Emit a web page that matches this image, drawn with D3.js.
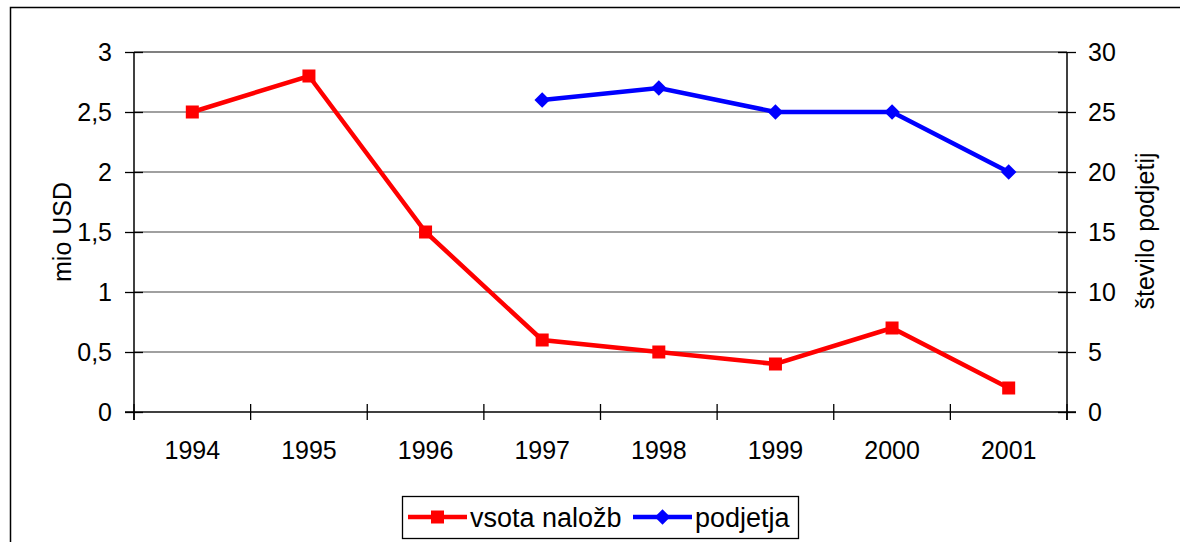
<!DOCTYPE html>
<html><head><meta charset="utf-8">
<script src="https://cdn.jsdelivr.net/npm/d3@7"></script>
<style>body{margin:0;background:#fff}svg{display:block}text{font-family:"Liberation Sans",Arial,sans-serif;fill:#000}</style>
</head><body><svg id="c" width="1180" height="542"></svg>
<script>
const years = ["1994","1995","1996","1997","1998","1999","2000","2001"];
const vsota = [2.5, 2.8, 1.5, 0.6, 0.5, 0.4, 0.7, 0.2];
const podjetja = [null, null, null, 26, 27, 25, 25, 20];
const leftTicks = [0, 0.5, 1, 1.5, 2, 2.5, 3];
const rightTicks = [0, 5, 10, 15, 20, 25, 30];
const seriesNames = ["vsota naložb", "podjetja"];

const svg = d3.select("#c");
const L = 134, R = 1067, T = 52, B = 412;
const x = d3.scaleBand().domain(years).range([L, R]);
const yL = d3.scaleLinear().domain([0, 3]).range([B, T]);
const yR = d3.scaleLinear().domain([0, 30]).range([B, T]);
const fmt = d => String(d).replace(".", ",");

// outer frame
svg.append("rect").attr("x", 10.5).attr("y", 7.5).attr("width", 1200).attr("height", 600)
  .attr("fill", "none").attr("stroke", "#000").attr("stroke-width", 1.5);

// gridlines
svg.append("g").selectAll("line").data(leftTicks.filter(d => d > 0)).join("line")
  .attr("x1", L).attr("x2", R).attr("y1", d => yL(d)).attr("y2", d => yL(d))
  .attr("stroke", "#808080").attr("stroke-width", d => d === 3 ? 2 : 1.3);

// left axis
const gl = svg.append("g").attr("transform", `translate(${L},0)`)
  .call(d3.axisLeft(yL).tickValues(leftTicks).tickFormat(fmt).tickSize(9).tickPadding(13));
gl.select(".domain").remove();
gl.selectAll(".tick line").attr("x1", 9).attr("stroke", "#000").attr("stroke-width", 1.3);
gl.selectAll("text").style("font-size", "25px");
svg.append("line").attr("x1", L).attr("x2", L).attr("y1", T).attr("y2", B + 8).attr("stroke", "#000").attr("stroke-width", 1.5);

// right axis
const gr = svg.append("g").attr("transform", `translate(${R},0)`)
  .call(d3.axisRight(yR).tickValues(rightTicks).tickSize(9).tickPadding(12));
gr.select(".domain").remove();
gr.selectAll(".tick line").attr("x1", -9).attr("stroke", "#000").attr("stroke-width", 1.3);
gr.selectAll("text").style("font-size", "25px");
svg.append("line").attr("x1", R).attr("x2", R).attr("y1", T).attr("y2", B + 8).attr("stroke", "#000").attr("stroke-width", 1.5);

// x axis
svg.append("line").attr("x1", L - 9).attr("x2", R + 9).attr("y1", B).attr("y2", B).attr("stroke", "#000").attr("stroke-width", 1.5);
const bounds = years.map(d => x(d)).concat([R]);
svg.append("g").selectAll("line").data(bounds).join("line")
  .attr("x1", d => d).attr("x2", d => d).attr("y1", B - 8).attr("y2", B + 8)
  .attr("stroke", "#000").attr("stroke-width", 1.3);
svg.append("g").selectAll("text").data(years).join("text")
  .attr("x", d => x(d) + x.bandwidth() / 2).attr("y", 459).attr("text-anchor", "middle")
  .style("font-size", "25px").text(d => d);

// axis titles
svg.append("text").attr("transform", "translate(71,232) rotate(-90)").attr("text-anchor", "middle")
  .style("font-size", "25px").text("mio USD");
svg.append("text").attr("transform", "translate(1154,231) rotate(-90)").attr("text-anchor", "middle")
  .style("font-size", "25px").text("število podjetij");

const cx = d => x(d) + x.bandwidth() / 2;
// red line
const redData = years.map((y, i) => ({ y, v: vsota[i] }));
svg.append("path").datum(redData)
  .attr("d", d3.line().x(d => cx(d.y)).y(d => yL(d.v)))
  .attr("fill", "none").attr("stroke", "#ff0000").attr("stroke-width", 4.5).attr("stroke-linejoin", "miter");
svg.append("g").selectAll("rect").data(redData).join("rect")
  .attr("x", d => cx(d.y) - 6.5).attr("y", d => yL(d.v) - 6.5).attr("width", 13).attr("height", 13).attr("fill", "#ff0000");

// blue line
const blueData = years.map((y, i) => ({ y, v: podjetja[i] })).filter(d => d.v != null);
svg.append("path").datum(blueData)
  .attr("d", d3.line().x(d => cx(d.y)).y(d => yR(d.v)))
  .attr("fill", "none").attr("stroke", "#0000ff").attr("stroke-width", 4.5);
svg.append("g").selectAll("path").data(blueData).join("path")
  .attr("transform", d => `translate(${cx(d.y)},${yR(d.v)}) rotate(45)`)
  .attr("d", d3.symbol().type(d3.symbolSquare).size(120)).attr("fill", "#0000ff");

// legend
svg.append("rect").attr("x", 402.5).attr("y", 496.5).attr("width", 396).attr("height", 42)
  .attr("fill", "#fff").attr("stroke", "#000").attr("stroke-width", 1.3);
const leg = [{ x0: 408, x1: 467, c: "#ff0000", t: seriesNames[0], tx: 470, m: "sq" },
             { x0: 633, x1: 692, c: "#0000ff", t: seriesNames[1], tx: 695, m: "dia" }];
const lg = svg.append("g").selectAll("g").data(leg).join("g");
lg.append("line").attr("x1", d => d.x0).attr("x2", d => d.x1).attr("y1", 517).attr("y2", 517)
  .attr("stroke", d => d.c).attr("stroke-width", 4.5);
lg.append("path").attr("transform", d => `translate(${(d.x0 + d.x1) / 2},517) rotate(${d.m === "dia" ? 45 : 0})`)
  .attr("d", d => d3.symbol().type(d3.symbolSquare).size(d.m === "dia" ? 120 : 169)()).attr("fill", d => d.c);
lg.append("text").attr("x", d => d.tx).attr("y", 527).style("font-size", "27px").text(d => d.t);
</script></body></html>
